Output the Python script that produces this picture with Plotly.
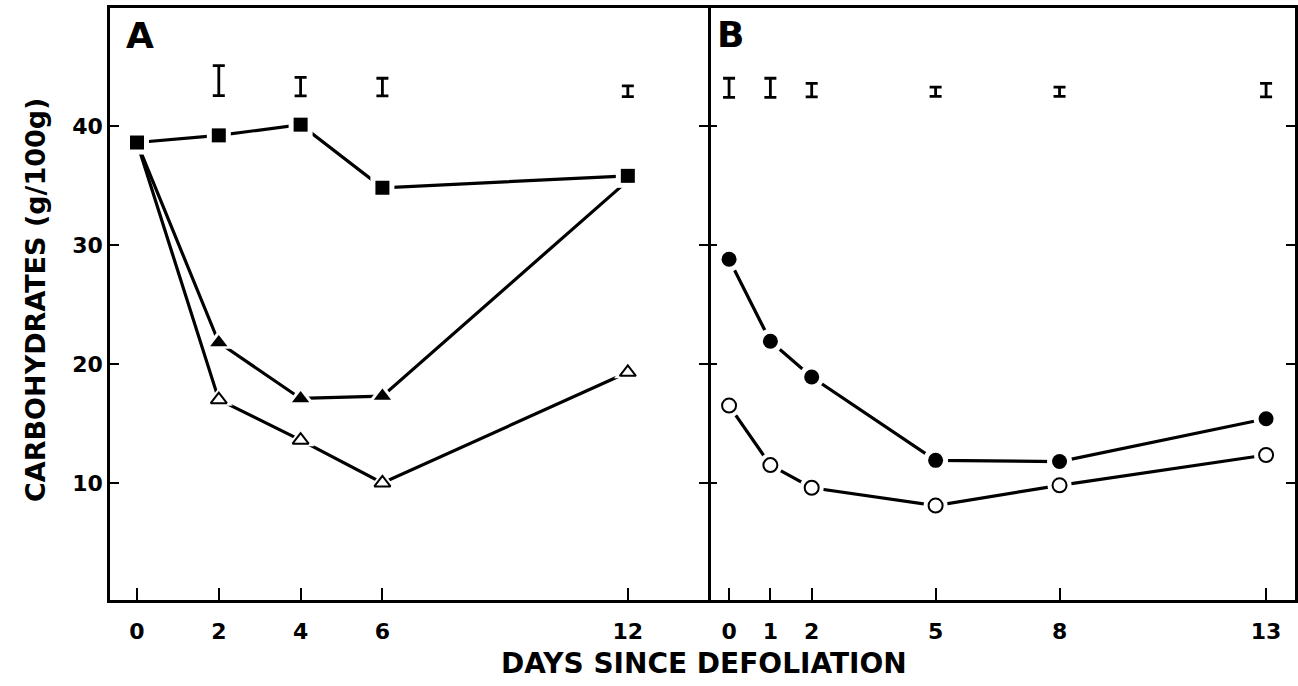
import plotly.graph_objects as go

# ---- Panel A data ----
days_a = [0, 2, 4, 6, 12]
a_square = [38.6, 39.2, 40.1, 34.8, 35.8]
a_tri_filled = [38.6, 21.8, 17.1, 17.3, 35.4]
a_tri_open = [38.6, 17.0, 13.6, 10.0, 19.3]
lsd_a_days = [2, 4, 6, 12]
lsd_a_center = [43.8, 43.3, 43.26, 42.9]
lsd_a_half = [1.26, 0.78, 0.74, 0.45]

# ---- Panel B data ----
days_b = [0, 1, 2, 5, 8, 13]
b_circ_filled = [28.8, 21.9, 18.9, 11.9, 11.8, 15.4]
b_circ_open = [16.5, 11.5, 9.6, 8.1, 9.8, 12.35]
lsd_b_days = [0, 1, 2, 5, 8, 13]
lsd_b_center = [43.2, 43.2, 43.0, 42.86, 42.86, 43.0]
lsd_b_half = [0.8, 0.8, 0.56, 0.39, 0.39, 0.56]

xticks_a = [0, 2, 4, 6, 12]
xticks_b = [0, 1, 2, 5, 8, 13]
yticks = [10, 20, 30, 40]

FONT = "DejaVu Sans"
LW = 3.2

fig = go.Figure()


def add_series(x, y, xa, ya, symbol, size, filled):
    fig.add_trace(go.Scatter(x=x, y=y, xaxis=xa, yaxis=ya, mode="lines",
                             line=dict(color="black", width=LW),
                             hoverinfo="skip", showlegend=False))


def add_markers(x, y, xa, ya, symbol, size, filled):
    # white halo to create gaps between lines and markers
    fig.add_trace(go.Scatter(x=x, y=y, xaxis=xa, yaxis=ya, mode="markers",
                             marker=dict(symbol=symbol, size=size + 10, color="white",
                                         line=dict(width=0)),
                             hoverinfo="skip", showlegend=False))
    fig.add_trace(go.Scatter(x=x, y=y, xaxis=xa, yaxis=ya, mode="markers",
                             marker=dict(symbol=symbol, size=size,
                                         color="black" if filled else "white",
                                         line=dict(color="black", width=0 if filled else 2)),
                             showlegend=False))


series = [
    (days_a, a_square, "x", "y", "square", 14, True),
    (days_a, a_tri_filled, "x", "y", "triangle-up", 15, True),
    (days_a, a_tri_open, "x", "y", "triangle-up", 14, False),
    (days_b, b_circ_filled, "x2", "y2", "circle", 15, True),
    (days_b, b_circ_open, "x2", "y2", "circle", 14, False),
]
for s in series:
    add_series(*s)
for s in [series[2], series[1], series[0], series[4], series[3]]:
    add_markers(*s)

# LSD bars
for xs, ys, hs, xa, ya in [(lsd_a_days, lsd_a_center, lsd_a_half, "x", "y"),
                           (lsd_b_days, lsd_b_center, lsd_b_half, "x2", "y2")]:
    fig.add_trace(go.Scatter(x=xs, y=ys, xaxis=xa, yaxis=ya, mode="markers",
                             marker=dict(size=1, color="rgba(0,0,0,0)"),
                             error_y=dict(type="data", array=hs, visible=True,
                                          color="black", thickness=2.8, width=6),
                             hoverinfo="skip", showlegend=False))

L, R, T, B = 110, 3, 8, 86
W, H = 1298, 686
pw = W - L - R
ph = H - T - B
split = (708 - L) / pw

tickfont = dict(family=FONT, size=22, color="black", weight="bold")
axis_common = dict(linecolor="black", linewidth=2.5, showgrid=False,
                   zeroline=False, ticks="inside", tickcolor="black", tickwidth=2,
                   tickfont=tickfont)
yrange = [0.17, 49.9]

fig.update_layout(
    width=W, height=H,
    margin=dict(l=L, r=R, t=T, b=B),
    paper_bgcolor="white", plot_bgcolor="white",
    xaxis=dict(domain=[0, split], range=[-0.66, 13.96], tickvals=xticks_a, showline=True,
               ticklen=12, mirror=True, anchor="y", ticklabelstandoff=10, **axis_common),
    xaxis2=dict(domain=[split, 1], range=[-0.51, 13.70], tickvals=xticks_b, showline=True,
                ticklen=12, mirror=True, anchor="y2", ticklabelstandoff=10, **axis_common),
    yaxis=dict(domain=[0, 1], range=yrange, tickvals=yticks, ticklen=9, showline=True,
               mirror="ticks", anchor="x", **axis_common),
    yaxis2=dict(domain=[0, 1], range=yrange, tickvals=yticks, ticklen=9, showline=False,
                anchor="x2", showticklabels=False, **axis_common),
    yaxis3=dict(domain=[0, 1], range=yrange, tickvals=yticks, ticklen=9, showline=True,
                anchor="x2", side="right", overlaying="y2", showticklabels=False,
                **axis_common),
    annotations=[
        dict(text="A", xref="paper", yref="paper", x=(140 - L) / pw, y=(600 - 35) / ph,
             showarrow=False, font=dict(family=FONT, size=36, color="black", weight="bold"),
             xanchor="center", yanchor="middle"),
        dict(text="B", xref="paper", yref="paper", x=(730 - L) / pw, y=(600 - 34) / ph,
             showarrow=False, font=dict(family=FONT, size=36, color="black", weight="bold"),
             xanchor="center", yanchor="middle"),
        dict(text="DAYS SINCE DEFOLIATION", xref="paper", yref="paper",
             x=(704 - L) / pw, y=(600 - 663) / ph, showarrow=False,
             font=dict(family=FONT, size=28, color="black", weight="bold"),
             xanchor="center", yanchor="middle"),
        dict(text="CARBOHYDRATES (g/100g)", xref="paper", yref="paper",
             x=(35 - L) / pw, y=(600 - 300) / ph, showarrow=False, textangle=-90,
             font=dict(family=FONT, size=27, color="black", weight="bold"),
             xanchor="center", yanchor="middle"),
    ],
)

# dummy trace so yaxis3 is drawn
fig.add_trace(go.Scatter(x=[None], y=[None], xaxis="x2", yaxis="y3", showlegend=False,
                         hoverinfo="skip"))

fig.write_html("out.html", config={"displayModeBar": False},
               post_script="document.body.style.margin='0px';document.body.style.overflow='hidden';")
